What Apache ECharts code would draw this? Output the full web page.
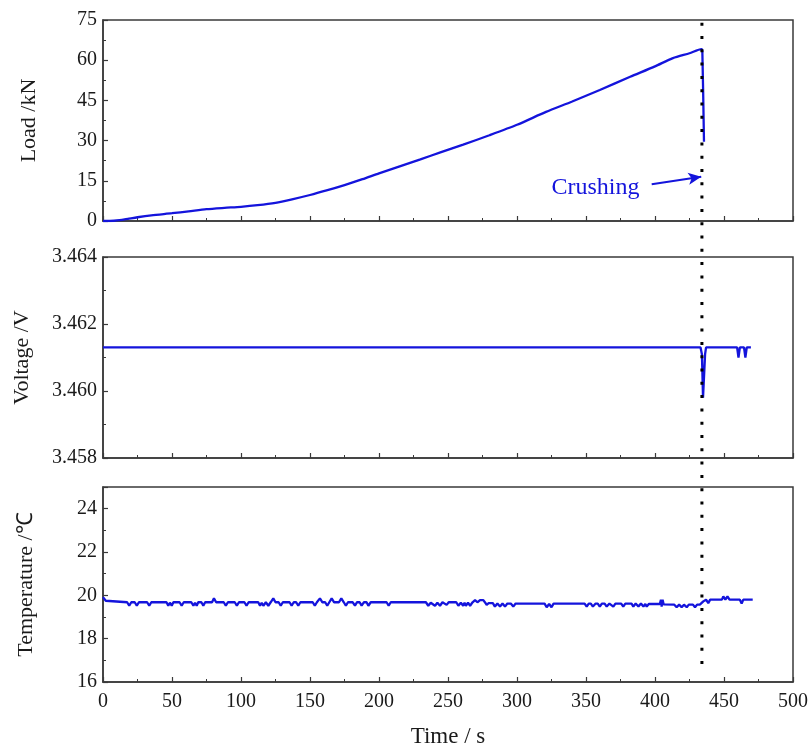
<!DOCTYPE html>
<html>
<head>
<meta charset="utf-8">
<script src="https://cdn.jsdelivr.net/npm/echarts@6/dist/echarts.min.js"></script>
<style>html,body{margin:0;padding:0;background:#fff}#c{width:811px;height:749px}</style>
</head>
<body>
<div id="c"></div>
<script>
// ---- data ----
const xTicks = [0, 50, 100, 150, 200, 250, 300, 350, 400, 450, 500];
const crushTime = 434;

const loadTime = [0, 8, 12, 18, 25, 35, 50, 62, 75, 88, 100, 112, 125, 137, 150, 162, 175, 188, 200, 215, 230, 245, 261, 280, 300, 321, 340, 360, 382, 400, 413, 425, 433.8, 434.3, 435.5];
const loadValue = [0, 0.1, 0.3, 0.8, 1.4, 2.1, 2.9, 3.6, 4.4, 4.9, 5.3, 5.9, 6.8, 8.1, 9.7, 11.4, 13.4, 15.6, 17.8, 20.4, 23.0, 25.7, 28.5, 32.0, 35.9, 40.7, 44.6, 48.9, 53.8, 57.7, 60.8, 62.6, 64.1, 63.5, 29.6];

const voltTime = [0, 433, 434, 434.8, 435.5, 436.3, 437, 459.5, 460.5, 461.5, 464.5, 465.5, 466.5, 469.5];
const voltValue = [3.4613, 3.4613, 3.4611, 3.4598, 3.4598, 3.4611, 3.4613, 3.4613, 3.4610, 3.4613, 3.4613, 3.4610, 3.4613, 3.4613];

const tempPoints = [
  [0,19.92],[2,19.75],[3,19.68],
  [17.5,19.68],[19,19.52],[20.5,19.68],
  [23,19.68],[24.5,19.52],[26,19.68],
  [32,19.68],[33.5,19.52],[35,19.68],
  [46,19.68],[47.3,19.52],[48.5,19.66],[49.8,19.52],[51,19.68],
  [55.5,19.68],[57,19.52],[58.5,19.68],
  [64,19.68],[65.5,19.52],[66.7,19.66],[67.9,19.52],[69,19.68],
  [71.3,19.68],[72.7,19.52],[74,19.68],
  [79,19.68],[80.4,19.86],[82,19.68],
  [87.5,19.68],[89,19.52],[90.5,19.68],
  [95.5,19.68],[97,19.52],[98.5,19.68],
  [102.5,19.68],[104,19.52],[105.5,19.68],
  [112.5,19.68],[113.8,19.52],[115,19.66],[116.2,19.52],[118,19.68],[119.8,19.52],[121.5,19.68],
  [123.4,19.86],[125,19.68],
  [127.3,19.68],[128.8,19.52],[130.3,19.68],
  [135.2,19.68],[136.7,19.52],[138.2,19.68],
  [140,19.68],[141.5,19.52],[143,19.68],
  [152,19.68],[153.5,19.52],[155,19.68],[157.2,19.86],[159,19.68],
  [161,19.68],[162.5,19.52],[164,19.68],[165.7,19.86],[167.5,19.68],
  [171,19.68],[172.7,19.86],[174.5,19.68],[176,19.52],[177.5,19.68],
  [181,19.68],[182.6,19.52],[184,19.68],
  [186,19.68],[187.4,19.52],[189,19.68],
  [191,19.68],[192.3,19.52],[194,19.68],
  [205.5,19.68],[207,19.52],[208.5,19.68],
  [234,19.68],[235.7,19.52],[237.5,19.66],[240.6,19.52],[242.3,19.66],[244.2,19.52],[246,19.68],[249,19.56],[250.5,19.68],
  [256,19.68],[257.5,19.52],[259.3,19.66],[261,19.52],[262,19.66],[263,19.52],[264.5,19.66],
  [266,19.52],[267.8,19.68],[269.6,19.78],[271.3,19.68],[273.2,19.78],[274.4,19.7],[275.6,19.78],[277,19.66],[278,19.56],[279.5,19.64],
  [282.5,19.64],[284,19.48],[285.8,19.62],[287.7,19.48],[289.5,19.62],[291.3,19.48],[293,19.62],[295.5,19.62],[297.3,19.48],[299,19.62],
  [320,19.62],[321.5,19.45],[323.3,19.6],[325,19.45],[326.5,19.62],
  [349,19.62],[350.5,19.48],[352,19.62],[353.5,19.62],[355,19.48],[357,19.62],[358.5,19.62],[360,19.48],[361.5,19.62],
  [363.5,19.62],[365,19.48],[367,19.62],[368.3,19.62],[369.8,19.48],[371.3,19.62],
  [375.5,19.62],[377,19.48],[378.5,19.62],
  [383,19.62],[384.3,19.48],[386,19.62],[388,19.48],[389.8,19.62],[391.6,19.48],[393,19.6],[394,19.48],[395.5,19.6],
  [403.5,19.6],[404.3,19.8],[404.8,19.48],[405.5,19.8],[406.3,19.58],
  [414,19.57],[415.7,19.45],[417.5,19.57],[419.3,19.45],[421,19.57],[423,19.45],[424.5,19.57],[427.5,19.57],[429,19.45],[430.5,19.57],[432.5,19.57],
  [435,19.72],[437,19.8],[438.6,19.64],[440,19.8],[448.5,19.8],[449.5,19.95],[451,19.8],[452.5,19.95],[454,19.8],
  [461.5,19.8],[462.8,19.62],[464,19.8],[470.8,19.8]
];

const loadData = loadTime.map((t, i) => [t, loadValue[i]]);
const voltData = voltTime.map((t, i) => [t, voltValue[i]]);

// ---- styles ----
const FONT = '"Liberation Serif", "Times New Roman", serif';
const AX = '#3a3a3a';
const BLUE = '#1414dc';
const grids = [
  {left: 103, top: 20, width: 690, height: 201},
  {left: 103, top: 257, width: 690, height: 201},
  {left: 103, top: 487, width: 690, height: 202}
].map(g => Object.assign(g, {show: true, borderColor: AX, borderWidth: 1.5, backgroundColor: 'transparent'}));

function xAxis(i, showLabels) {
  return {
    type: 'value', gridIndex: i, min: 0, max: 500, interval: 50,
    axisLine: {show: true, onZero: false, lineStyle: {color: AX, width: 1.5}},
    axisTick: {show: true, inside: true, length: 5, lineStyle: {color: AX, width: 1.2}},
    minorTick: {show: true, splitNumber: 2, length: 3, lineStyle: {color: AX, width: 1}},
    splitLine: {show: false},
    axisLabel: {show: showLabels, color: '#1a1a1a', fontFamily: FONT, fontSize: 20, margin: 10},
    name: showLabels ? 'Time / s' : '',
    nameLocation: 'middle', nameGap: 43,
    nameTextStyle: {color: '#1a1a1a', fontFamily: FONT, fontSize: 23}
  };
}
function yAxis(i, min, max, interval, name, gap, fmt) {
  return {
    type: 'value', gridIndex: i, min: min, max: max, interval: interval,
    axisLine: {show: true, onZero: false, lineStyle: {color: AX, width: 1.5}},
    axisTick: {show: true, inside: true, length: 5, lineStyle: {color: AX, width: 1.2}},
    minorTick: {show: true, splitNumber: 2, length: 3, lineStyle: {color: AX, width: 1}},
    splitLine: {show: false},
    axisLabel: {color: '#1a1a1a', fontFamily: FONT, fontSize: 20, margin: 6, formatter: fmt, showMaxLabel: i === 2 ? false : true},
    name: name, nameLocation: 'middle', nameGap: gap, nameRotate: 90,
    nameTextStyle: {color: '#1a1a1a', fontFamily: FONT, fontSize: 22}
  };
}

const chart = echarts.init(document.getElementById('c'), null, {renderer: 'canvas'});
chart.setOption({
  animation: false,
  backgroundColor: '#fff',
  grid: grids,
  xAxis: [xAxis(0, false), xAxis(1, false), xAxis(2, true)],
  yAxis: [
    yAxis(0, 0, 75, 15, 'Load /kN', 63, v => String(v)),
    yAxis(1, 3.458, 3.464, 0.002, 'Voltage /V', 70, v => v.toFixed(3)),
    yAxis(2, 16, 25, 2, 'Temperature /\u2103', 66, v => String(v))
  ],
  series: [
    {type: 'line', xAxisIndex: 0, yAxisIndex: 0, data: loadData, showSymbol: false, smooth: 0.25,
     lineStyle: {color: BLUE, width: 2.3}, itemStyle: {color: BLUE},
     markLine: {silent: true, symbol: ['none', 'arrow'], symbolSize: [9, 13], label: {show: false},
       lineStyle: {color: BLUE, width: 2, type: 'solid'},
       data: [[{coord: [397.6, 13.7]}, {coord: [433.5, 16.5]}]]}},
    {type: 'line', xAxisIndex: 1, yAxisIndex: 1, data: voltData, showSymbol: false, lineStyle: {color: BLUE, width: 2.3}, itemStyle: {color: BLUE}},
    {type: 'line', xAxisIndex: 2, yAxisIndex: 2, data: tempPoints, showSymbol: false, lineStyle: {color: BLUE, width: 2.3}, itemStyle: {color: BLUE}}
  ]
});

const xCrush = chart.convertToPixel({xAxisIndex: 0}, crushTime);
const yTop = chart.convertToPixel({yAxisIndex: 0}, 74);
const yBot = chart.convertToPixel({yAxisIndex: 2}, 16.45);
const txt = chart.convertToPixel({xAxisIndex: 0, yAxisIndex: 0}, [325, 12.4]);
chart.setOption({
  graphic: [
    {type: 'line', z: 100, shape: {x1: xCrush, y1: yTop, x2: xCrush, y2: yBot},
     style: {stroke: '#000', lineWidth: 3, lineDash: [3, 10.3]}},
    {type: 'text', z: 100, x: txt[0], y: txt[1],
     style: {text: 'Crushing', fill: BLUE, font: '24px "Liberation Serif", "Times New Roman", serif', textAlign: 'left', textVerticalAlign: 'middle'}}
  ]
});
</script>
</body>
</html>
